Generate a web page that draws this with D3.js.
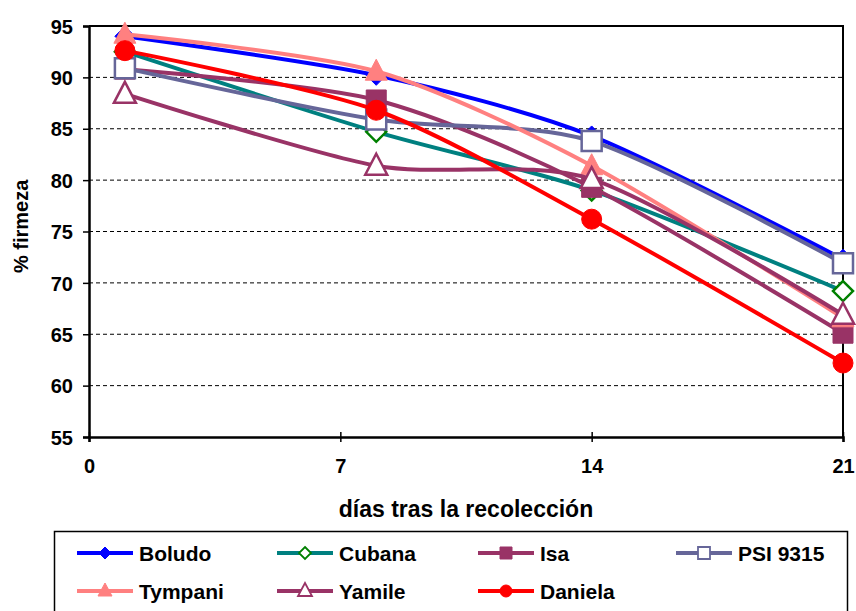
<!DOCTYPE html>
<html lang="es">
<head>
    <meta charset="UTF-8">
    <title>% firmeza</title>
    <style>
        body { margin: 0; background: #fff; }
        text { font-family: "Liberation Sans", Arial, sans-serif; font-weight: bold; }
    </style>
</head>
<body>
<script src="https://d3js.org/d3.v7.min.js"></script>
<script>

    const width = 856;
    const height = 611;

    // days after harvest
    const days = [1, 8, 14, 21];

    const boludo  = [94.0, 90.2, 84.3, 72.3];
    const cubana  = [92.5, 84.7, 79.0, 69.2];
    const isa     = [90.8, 87.8, 79.3, 65.1];
    const psi9315 = [90.9, 85.9, 83.8, 71.9];
    const tympani = [94.2, 90.6, 81.4, 66.6];
    const yamile  = [88.4, 81.4, 80.1, 66.9];
    const daniela = [92.6, 86.8, 76.2, 62.2];

    const xTicks = [0, 7, 14, 21];
    const yTicks = [55, 60, 65, 70, 75, 80, 85, 90, 95];

    const series = [
        {name: 'Boludo',   values: boludo,  line: '#0000ff', marker: 'diamond',  fill: '#0000ff', stroke: '#0000ff'},
        {name: 'Cubana',   values: cubana,  line: '#008080', marker: 'diamond',  fill: '#ffffff', stroke: '#008000'},
        {name: 'Isa',      values: isa,     line: '#993366', marker: 'square',   fill: '#993366', stroke: '#993366'},
        {name: 'PSI 9315', values: psi9315, line: '#666699', marker: 'square',   fill: '#ffffff', stroke: '#666699'},
        {name: 'Tympani',  values: tympani, line: '#ff8080', marker: 'triangle', fill: '#ff8080', stroke: '#ff8080'},
        {name: 'Yamile',   values: yamile,  line: '#993366', marker: 'triangle', fill: '#ffffff', stroke: '#993366'},
        {name: 'Daniela',  values: daniela, line: '#ff0000', marker: 'circle',   fill: '#ff0000', stroke: '#ff0000'}
    ];

    const margin = {left: 89, right: 13, top: 26, bottom: 174};

    let x = d3.scaleLinear().domain([0, 21]).range([margin.left, width - margin.right]);
    let y = d3.scaleLinear().domain([55, 95]).range([height - margin.bottom, margin.top]);

    let svg = d3.select('body').append('svg')
        .attr('width', width)
        .attr('height', height);

    // dashed gridlines
    svg.append('g').selectAll('line')
        .data(yTicks.slice(1, -1))
        .enter().append('line')
        .attr('x1', x(0)).attr('x2', x(21))
        .attr('y1', d => y(d)).attr('y2', d => y(d))
        .attr('stroke', '#000')
        .attr('stroke-width', 1)
        .attr('stroke-dasharray', '4,3');

    // top and right border
    svg.append('path')
        .attr('d', 'M' + x(0) + ',' + y(95) + 'H' + x(21) + 'V' + y(55))
        .attr('fill', 'none')
        .attr('stroke', '#000')
        .attr('stroke-width', 2);

    let yAxis = svg.append('g')
        .attr('transform', 'translate(' + x(0) + ',0)')
        .call(d3.axisLeft(y).tickValues(yTicks).tickSize(6).tickPadding(10));

    let xAxis = svg.append('g')
        .attr('transform', 'translate(0,' + y(55) + ')')
        .call(d3.axisBottom(x).tickValues(xTicks).tickSize(5).tickPadding(17));

    [yAxis, xAxis].forEach(function (a) {
        a.select('.domain').attr('stroke', '#000').attr('stroke-width', 2.5);
        a.selectAll('.tick line').attr('stroke', '#000').attr('stroke-width', 1.5);
        a.selectAll('text').attr('fill', '#000').style('font-size', '20px');
    });
    yAxis.selectAll('.tick text').attr('dy', '0.36em');
    xAxis.selectAll('.tick line').attr('y1', -5);

    svg.append('text')
        .attr('x', (x(0) + x(21)) / 2)
        .attr('y', 517)
        .attr('text-anchor', 'middle')
        .style('font-size', '23px')
        .text('días tras la recolección');

    svg.append('text')
        .attr('transform', 'translate(28,' + y(75.5) + ') rotate(-90)')
        .attr('text-anchor', 'middle')
        .style('font-size', '20px')
        .text('% firmeza');

    const size = 20;
    function markerPath(type, s) {
        const h = s / 2;
        if (type === 'diamond') return 'M0,' + (-h) + 'L' + h + ',0L0,' + h + 'L' + (-h) + ',0Z';
        if (type === 'square') return 'M' + (-h) + ',' + (-h) + 'H' + h + 'V' + h + 'H' + (-h) + 'Z';
        if (type === 'triangle') return 'M0,' + (-h - 2) + 'L' + (h + 1) + ',' + (h - 1) + 'H' + (-h - 1) + 'Z';
        return d3.symbol(d3.symbolCircle, Math.PI * h * h)();
    }

    let line = d3.line()
        .x((d, i) => x(days[i]))
        .y(d => y(d))
        .curve(d3.curveCardinal.tension(0.2));

    let plot = svg.append('g');
    series.forEach(function (s) {
        let g = plot.append('g');
        g.append('path')
            .attr('d', line(s.values))
            .attr('fill', 'none')
            .attr('stroke', s.line)
            .attr('stroke-width', 4);
        g.selectAll('path.marker')
            .data(s.values)
            .enter().append('path')
            .attr('class', 'marker')
            .attr('transform', (d, i) => 'translate(' + x(days[i]) + ',' + y(d) + ')')
            .attr('d', markerPath(s.marker, size))
            .attr('fill', s.fill)
            .attr('stroke', s.stroke)
            .attr('stroke-width', s.fill === '#ffffff' ? 2.5 : 1);
    });

    // legend
    let legend = svg.append('g');
    legend.append('rect')
        .attr('x', 54.5).attr('y', 531.5)
        .attr('width', 793).attr('height', 90)
        .attr('fill', '#fff')
        .attr('stroke', '#000')
        .attr('stroke-width', 1.5);

    const colX = [77, 277, 478, 676];
    const rowY = [553, 591];

    series.forEach(function (s, i) {
        let lx = colX[i % 4];
        let ly = rowY[Math.floor(i / 4)];
        let item = legend.append('g').attr('transform', 'translate(' + lx + ',' + ly + ')');
        item.append('line')
            .attr('x1', 0).attr('x2', 56)
            .attr('stroke', s.line)
            .attr('stroke-width', 4);
        item.append('path')
            .attr('transform', 'translate(28,0)')
            .attr('d', markerPath(s.marker, 12))
            .attr('fill', s.fill)
            .attr('stroke', s.stroke)
            .attr('stroke-width', s.fill === '#ffffff' ? 1.8 : 1);
        item.append('text')
            .attr('x', 62)
            .attr('dy', '0.36em')
            .style('font-size', '21px')
            .text(s.name);
    });

</script>
</body>
</html>
